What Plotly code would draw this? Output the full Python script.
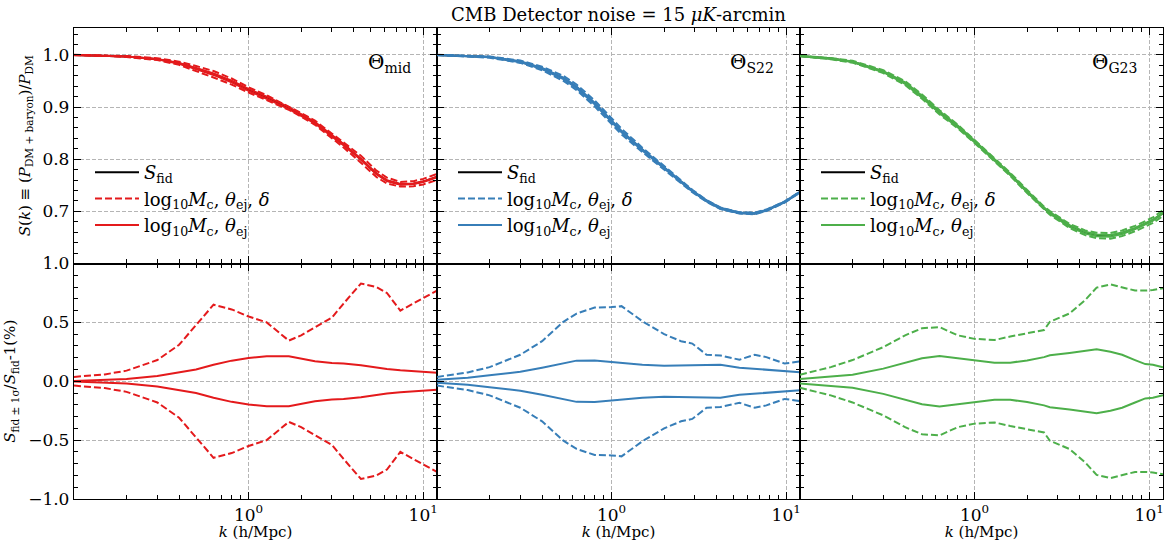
import plotly.graph_objects as go
from plotly.subplots import make_subplots

title_text = "CMB Detector noise = 15 <i>μK</i>-arcmin"
panel_labels = ["Θ<sub>mid</sub>", "Θ<sub>S22</sub>", "Θ<sub>G23</sub>"]
colors = ["#e41a1c", "#377eb8", "#4daf4a"]
legend_names = [
    "<i>S</i><sub>fid</sub>",
    "log<sub>10</sub><i>M</i><sub>c</sub>, <i>θ</i><sub>ej</sub>, <i>δ</i>",
    "log<sub>10</sub><i>M</i><sub>c</sub>, <i>θ</i><sub>ej</sub>",
]

# ---- Theta_mid ----
k_mid = [0.1, 0.15, 0.2, 0.3, 0.4, 0.5, 0.63, 0.8, 1.0, 1.27, 1.7, 2.0, 2.4, 3.0, 3.5, 4.4, 5.4, 6.2, 7.4, 8.8, 10, 12]
sfid_mid = [1.0, 0.999, 0.997, 0.992, 0.984, 0.974, 0.963, 0.949, 0.933, 0.918, 0.898, 0.885, 0.870, 0.845, 0.828, 0.800, 0.772, 0.759, 0.752, 0.753, 0.757, 0.766]
sig3_mid = [0.037, 0.058, 0.09, 0.18, 0.31, 0.48, 0.65, 0.61, 0.55, 0.50, 0.345, 0.39, 0.46, 0.54, 0.66, 0.83, 0.80, 0.75, 0.60, 0.66, 0.70, 0.77]
sig2_mid = [0.003, 0.01, 0.02, 0.045, 0.075, 0.10, 0.14, 0.175, 0.197, 0.212, 0.213, 0.195, 0.17, 0.155, 0.15, 0.135, 0.115, 0.105, 0.093, 0.085, 0.078, 0.073]

# ---- Theta_S22 ----
k_s22 = [0.1, 0.15, 0.2, 0.3, 0.4, 0.53, 0.63, 0.8, 1.0, 1.14, 1.5, 2.0, 2.5, 2.9, 3.5, 4.2, 5.4, 6.6, 7.7, 9.8, 12]
sfid_s22 = [1.0, 0.998, 0.996, 0.987, 0.974, 0.955, 0.938, 0.907, 0.872, 0.853, 0.818, 0.783, 0.757, 0.739, 0.720, 0.706, 0.697, 0.696, 0.702, 0.718, 0.737]
sig3_s22 = [0.037, 0.075, 0.12, 0.225, 0.34, 0.505, 0.575, 0.626, 0.63, 0.638, 0.51, 0.40, 0.34, 0.32, 0.225, 0.219, 0.183, 0.225, 0.205, 0.15, 0.168]
sig2_s22 = [0.012, 0.03, 0.05, 0.08, 0.115, 0.155, 0.175, 0.177, 0.162, 0.155, 0.14, 0.132, 0.135, 0.14, 0.143, 0.14, 0.115, 0.105, 0.095, 0.085, 0.077]

# ---- Theta_G23 ----
k_g23 = [0.1, 0.15, 0.2, 0.3, 0.4, 0.5, 0.63, 0.8, 1.0, 1.3, 1.6, 2.0, 2.5, 2.7, 3.5, 4.3, 5.0, 6.0, 7.0, 8.3, 9.5, 10.5, 12]
sfid_g23 = [0.998, 0.993, 0.987, 0.968, 0.946, 0.920, 0.890, 0.863, 0.834, 0.799, 0.771, 0.738, 0.706, 0.697, 0.672, 0.659, 0.654, 0.653, 0.658, 0.667, 0.676, 0.683, 0.697]
sig3_g23 = [0.056, 0.12, 0.18, 0.29, 0.39, 0.45, 0.46, 0.39, 0.36, 0.35, 0.38, 0.41, 0.435, 0.505, 0.576, 0.69, 0.795, 0.823, 0.80, 0.77, 0.77, 0.775, 0.79]
sig2_g23 = [0.02, 0.04, 0.056, 0.107, 0.155, 0.195, 0.215, 0.194, 0.174, 0.157, 0.158, 0.177, 0.205, 0.22, 0.24, 0.258, 0.272, 0.25, 0.225, 0.18, 0.146, 0.14, 0.118]

panels = [
    (k_mid, sfid_mid, sig3_mid, sig2_mid),
    (k_s22, sfid_s22, sig3_s22, sig2_s22),
    (k_g23, sfid_g23, sig3_g23, sig2_g23),
]

x_major = [1, 10]
x_major_text = ["10<sup>0</sup>", "10<sup>1</sup>"]
x_minor = [0.2, 0.3, 0.4, 0.5, 0.6, 0.7, 0.8, 0.9, 2, 3, 4, 5, 6, 7, 8, 9]
top_yticks = [0.7, 0.8, 0.9, 1.0]
bot_yticks = [-1.0, -0.5, 0.0, 0.5, 1.0]

W, H = 1167, 541
ML, MR, MT, MB = 74, 4, 28, 42
PW = W - ML - MR
PH = H - MT - MB

fig = make_subplots(rows=2, cols=3, horizontal_spacing=0, vertical_spacing=0)

DASH = "7px,3px"
LW = 2.0
legend_ids = ["legend", "legend2", "legend3"]

for c, (k, sfid, sig3, sig2) in enumerate(panels):
    col = c + 1
    color = colors[c]
    lg = legend_ids[c]
    # top row
    fig.add_trace(go.Scatter(x=k, y=sfid, mode="lines", line=dict(color="black", width=LW),
                             name=legend_names[0], legend=lg, showlegend=True), row=1, col=col)
    for sgn in (1, -1):
        fig.add_trace(go.Scatter(x=k, y=[s * (1 + sgn * d / 100) for s, d in zip(sfid, sig3)], mode="lines",
                                 line=dict(color=color, width=LW, dash=DASH),
                                 name=legend_names[1], legend=lg, showlegend=(sgn == 1)), row=1, col=col)
    for sgn in (1, -1):
        fig.add_trace(go.Scatter(x=k, y=[s * (1 + sgn * d / 100) for s, d in zip(sfid, sig2)], mode="lines",
                                 line=dict(color=color, width=LW),
                                 name=legend_names[2], legend=lg, showlegend=(sgn == 1)), row=1, col=col)
    # bottom row
    for sgn in (1, -1):
        fig.add_trace(go.Scatter(x=k, y=[sgn * d for d in sig3], mode="lines",
                                 line=dict(color=color, width=LW, dash=DASH), showlegend=False), row=2, col=col)
    for sgn in (1, -1):
        fig.add_trace(go.Scatter(x=k, y=[sgn * d for d in sig2], mode="lines",
                                 line=dict(color=color, width=LW), showlegend=False), row=2, col=col)

FONT = "DejaVu Serif"
common = dict(showline=True, linecolor="black", linewidth=1.3, mirror="allticks",
              ticks="inside", ticklen=7, tickwidth=1.3, tickcolor="black",
              showgrid=True, gridcolor="#b5b5b5", griddash="4px,2px", gridwidth=0.8,
              zeroline=False, automargin=False,
              tickfont=dict(family=FONT, size=17, color="black"))

for r in (1, 2):
    for c in (1, 2, 3):
        fig.update_xaxes(type="log", range=[-1, 1.0792], tickmode="array", tickvals=x_major,
                         ticktext=x_major_text if r == 2 else ["", ""],
                         showticklabels=(r == 2),
                         minor=dict(ticks="inside", ticklen=4, tickwidth=1, tickcolor="black",
                                    tickmode="array", tickvals=x_minor, showgrid=False),
                         title=dict(text="<i>k</i> (h/Mpc)", font=dict(family=FONT, size=15, color="black"),
                                    standoff=0) if r == 2 else None,
                         **common, row=r, col=c)
        if r == 1:
            fig.update_yaxes(range=[0.6, 1.0517], tickmode="array", tickvals=top_yticks, tickformat=".1f",
                             showticklabels=(c == 1),
                             minor=dict(ticks="inside", ticklen=4, tickwidth=1, tickcolor="black",
                                        dtick=0.02, tick0=0, showgrid=False),
                             **common, row=r, col=c)
        else:
            fig.update_yaxes(range=[-1.0, 1.0], tickmode="array", tickvals=bot_yticks, tickformat=".1f",
                             showticklabels=(c == 1),
                             minor=dict(ticks="inside", ticklen=4, tickwidth=1, tickcolor="black",
                                        dtick=0.1, tick0=0, showgrid=False),
                             **common, row=r, col=c)

fig.update_yaxes(title=dict(text="<i>S</i>(<i>k</i>) ≡ (<i>P</i><sub>DM + baryon</sub>)/<i>P</i><sub>DM</sub>",
                            font=dict(family=FONT, size=15, color="black"), standoff=8), row=1, col=1)
fig.update_yaxes(title=dict(text="<i>S</i><sub>fid ± 1σ</sub>/<i>S</i><sub>fid</sub>-1(%)",
                            font=dict(family=FONT, size=15, color="black"), standoff=8), row=2, col=1)

# legends
leg_common = dict(bgcolor="rgba(0,0,0,0)", borderwidth=0, font=dict(family=FONT, size=18, color="black"),
                  xanchor="left", yanchor="top", tracegroupgap=0, itemwidth=44)
ly = 1 - (154 - MT) / PH
layout_legs = {}
for c in range(3):
    lx = (c * PW / 3 + 16) / PW
    layout_legs[legend_ids[c]] = dict(x=lx, y=ly, **leg_common)

annotations = []
xrefs = ["x domain", "x2 domain", "x3 domain"]
yrefs = ["y domain", "y2 domain", "y3 domain"]
for c in range(3):
    annotations.append(dict(text=panel_labels[c], xref=xrefs[c], yref=yrefs[c], x=0.935, y=0.85,
                            xanchor="right", yanchor="middle", showarrow=False,
                            font=dict(family=FONT, size=20, color="black")))
annotations.append(dict(text=title_text, xref="paper", yref="paper", x=0.5, y=1, yshift=14,
                        xanchor="center", yanchor="middle", showarrow=False,
                        font=dict(family=FONT, size=18, color="black")))

fig.update_layout(width=W, height=H, margin=dict(l=ML, r=MR, t=MT, b=MB, autoexpand=False),
                  font=dict(family=FONT, color="black"),
                  plot_bgcolor="white", paper_bgcolor="white",
                  annotations=annotations, **layout_legs)

fig.write_html("out.html", config={"displayModeBar": False},
               post_script="document.body.style.margin='0';document.body.style.overflow='hidden';")
